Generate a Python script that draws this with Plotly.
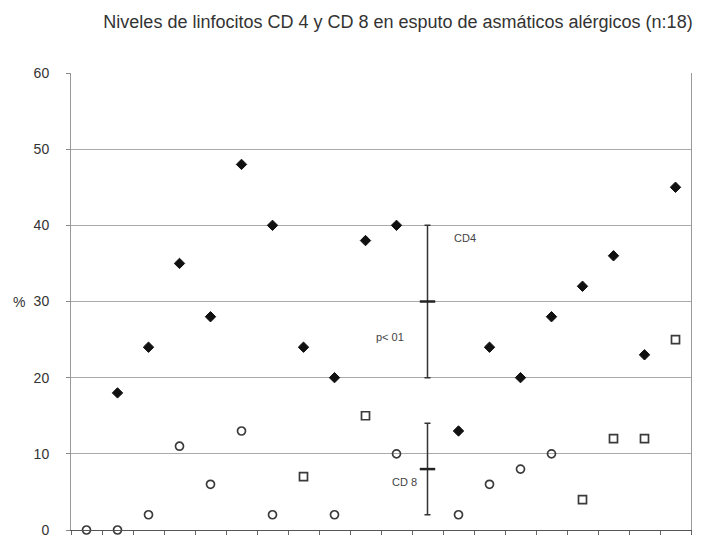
import plotly.graph_objects as go

# ---- data ----
title_text = "Niveles de linfocitos CD 4 y CD 8 en esputo de asmáticos alérgicos (n:18)"
positions = list(range(1, 21))
cd4 = [None, 18, 24, 35, 28, 48, 40, 24, 20, 38, 40, None, 13, 24, 20, 28, 32, 36, 23, 45]
cd8 = [0, 0, 2, 11, 6, 13, 2, 7, 2, 15, 10, None, 2, 6, 8, 10, 4, 12, 12, 25]
cd8_square = [False, False, False, False, False, False, False, True, False, True,
              False, False, False, False, False, False, True, True, True, True]
summary_x = 12
summary_mean = [30, 8]
summary_range = [10, 6]
y_ticks = [0, 10, 20, 30, 40, 50, 60]

FONT = "Arial, 'Liberation Sans', sans-serif"
TXT = "#333333"

# the page body has an 8px margin, so the figure is 706x530 drawn at (8, 8)
W, H = 706, 530
L, R, T, B = 63, 23, 65, 8
PW = W - L - R

fig = go.Figure()

fig.add_trace(go.Scatter(
    x=positions, y=cd4, mode="markers", name="CD4",
    marker=dict(symbol="diamond", size=8, color="#111111",
                line=dict(color="#111111", width=1)),
    cliponaxis=False, showlegend=False,
))

symbols = ["square-open" if s else "circle-open" for s in cd8_square]
fig.add_trace(go.Scatter(
    x=positions, y=cd8, mode="markers", name="CD8",
    marker=dict(symbol=symbols, size=8, color="#3a3a3a",
                line=dict(color="#3a3a3a", width=1.7)),
    cliponaxis=False, showlegend=False,
))

fig.add_trace(go.Scatter(
    x=[summary_x, summary_x], y=summary_mean, mode="markers",
    marker=dict(symbol="line-ew", size=11, line=dict(color="#222222", width=2.5)),
    error_y=dict(type="data", array=summary_range, visible=True,
                 color="#333333", thickness=1.5, width=3),
    cliponaxis=False, showlegend=False,
))

annos = [
    dict(x=13.2, y=38.3, text="CD4"),
    dict(x=10.8, y=25.3, text="p&lt; 01"),
    dict(x=11.27, y=6.3, text="CD 8"),
]
for a in annos:
    fig.add_annotation(x=a["x"], y=a["y"], text=a["text"], showarrow=False,
                       xref="x", yref="y",
                       font=dict(family=FONT, size=11, color="#444444"))

fig.add_annotation(x=(11 - L) / PW, y=30, xref="paper", yref="y", text="%",
                   showarrow=False, xanchor="center",
                   font=dict(family=FONT, size=14, color=TXT))

fig.update_layout(
    width=W, height=H,
    margin=dict(l=L, r=R, t=T, b=B, autoexpand=False),
    paper_bgcolor="white", plot_bgcolor="white",
    title=dict(text=title_text, x=390 / W, xref="container", xanchor="center",
               y=1 - 14 / H, yref="container", yanchor="middle",
               automargin=False,
               font=dict(family=FONT, size=18, color=TXT)),
    xaxis=dict(range=[0.5, 20.5], tickmode="array",
               tickvals=[i + 0.5 for i in range(0, 21)],
               showticklabels=False, ticks="outside", ticklen=4,
               tickcolor="#666666", showgrid=False, zeroline=False,
               showline=True, linecolor="#555555", linewidth=1.2,
               automargin=False),
    yaxis=dict(range=[0, 60], tickmode="array", tickvals=y_ticks,
               ticks="outside", ticklen=4, tickcolor="#888888",
               ticklabelstandoff=14, automargin=False,
               tickfont=dict(family=FONT, size=14, color=TXT),
               showgrid=True, gridcolor="#aaaaaa", gridwidth=1,
               zeroline=False, showline=True, linecolor="#999999",
               linewidth=1, mirror=True),
    font=dict(family=FONT),
)

fig.write_html("out.html")
